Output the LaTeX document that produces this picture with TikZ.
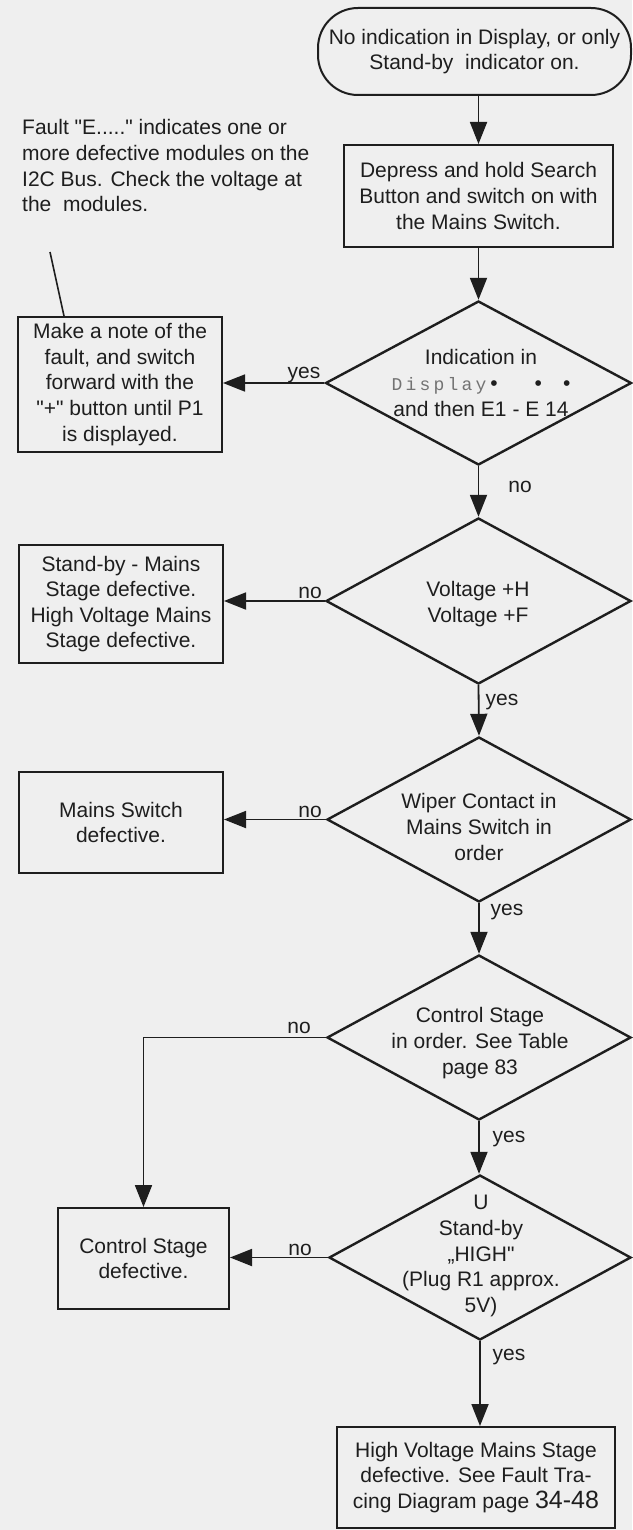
\documentclass[tikz,border=0pt]{standalone}
\usepackage{fontspec}
\setmainfont{Liberation Sans}[Ligatures=TeXOff]
\newfontfamily\lcd{Liberation Mono}
\usetikzlibrary{shapes.geometric,arrows.meta}
\definecolor{bg}{RGB}{239,239,239}
\definecolor{ink}{RGB}{30,30,30}
\definecolor{lcdgray}{RGB}{115,115,115}
\newcommand{\lsp}{\kern3.2pt}
\begin{document}
\begin{tikzpicture}[x=1pt,y=-1pt,
  every node/.style={font=\fontsize{21}{25.6}\selectfont, text=ink},
  box/.style={draw=ink, line width=2pt, rectangle, inner sep=0pt, align=center},
  dia/.style={draw=ink, line width=2.4pt, diamond, inner sep=0pt},
  txt/.style={align=center, inner sep=0pt},
  lbl/.style={inner sep=0pt},
  arr/.style={draw=ink, line width=1.8pt, -{Triangle[length=22pt,width=17pt]}},
]
\fill[bg] (0,0) rectangle (632,1530);
\useasboundingbox (0,0) rectangle (632,1530);

% start terminal
\node[box, rounded corners=40pt, minimum width=313pt, minimum height=87pt] (start) at (474.5,51.5)
  {No indication in Display, or only\\Stand-by\ \ indicator on.};

% first step
\node[box, minimum width=269pt, minimum height=102pt] (b1) at (478.5,196)
  {Depress and hold Search\\Button and switch on with\\the Mains Switch.};

% annotation
\node[txt, align=left, anchor=north west] (ann) at (22,119.5)
  {Fault "E....." indicates one or\\more defective modules on the\\I2C Bus. Check the voltage at\\the\ \ modules.};
\coordinate (lead) at (50,252);

% decision 1
\node[dia, minimum width=306pt, minimum height=164pt] (d1) at (478.5,383) {};
\node[txt] (t1) at (481,383)
  {Indication in\\{\lcd\fontsize{18}{25.6}\selectfont\color{lcdgray}D\lsp i\lsp s\lsp p\lsp l\lsp a\lsp y}\kern4pt•\kern37pt•\kern21pt•\\and then E1 - E 14};
\node[box, minimum width=204pt, minimum height=135pt] (note) at (120,384.5)
  {Make a note of the\\fault, and switch\\forward with the\\"+" button until P1\\is displayed.};

% decision 2
\node[dia, minimum width=305pt, minimum height=166pt] (d2) at (478.5,601) {};
\node[txt] (t2) at (478,604) {Voltage +H\\Voltage +F};
\node[box, minimum width=204pt, minimum height=118pt] (b2) at (121,604)
  {Stand-by - Mains\\Stage defective.\\High Voltage Mains\\Stage defective.};

% decision 3
\node[dia, minimum width=304pt, minimum height=165pt] (d3) at (479,819.5) {};
\node[txt] (t3) at (479,827) {Wiper Contact in\\Mains Switch in\\order};
\node[box, minimum width=204pt, minimum height=101pt] (b3) at (121,822.5)
  {Mains Switch\\defective.};

% decision 4
\node[dia, minimum width=304pt, minimum height=165pt] (d4) at (479,1037.5) {};
\node[txt] (t4) at (480,1043) {Control Stage\\in order. See Table\\page\ 83};

% decision 5
\node[dia, minimum width=302pt, minimum height=165pt] (d5) at (480,1257.5) {};
\node[txt] (t5) at (481,1256) {U\\Stand-by\\„HIGH"\\(Plug R1 approx.\\5V)};
\node[box, minimum width=171pt, minimum height=101pt] (b4) at (143.5,1258.5)
  {Control Stage\\defective.};

% final box
\node[box, minimum width=278pt, minimum height=101pt] (b5) at (476,1477.5)
  {High Voltage Mains Stage\\defective. See Fault Tra-\\cing Diagram page {\fontsize{25}{25.6}\selectfont 34-48}};

% connectors
\draw[arr] (b1.north |- start.south) -- (b1.north);
\draw[arr] (b1.south) -- (d1.north);
\draw[draw=ink, line width=1.6pt] (lead) -- ([xshift=-56pt]note.north);
\draw[arr] (d1.west) -- (d1.west -| note.east);
\draw[arr] (d1.south) -- (d2.north);
\draw[arr] (d2.west) -- (d2.west -| b2.east);
\draw[arr] (d2.south) -- (d3.north);
\draw[arr] (d3.west) -- (d3.west -| b3.east);
\draw[arr] (d3.south) -- (d4.north);
\draw[arr] (d4.west) -| (b4.north);
\draw[arr] (d4.south) -- (d4.south |- d5.north);
\draw[arr] (d5.west) -- (d5.west -| b4.east);
\draw[arr] (d5.south) -- (d5.south |- b5.north);

% labels
\node[lbl] (l1y) at (304,375) {yes};
\node[lbl] (l1n) at (520,487) {no};
\node[lbl] (l2n) at (310,593) {no};
\node[lbl] (l2y) at (502,702) {yes};
\node[lbl] (l3n) at (310,812) {no};
\node[lbl] (l3y) at (507,912) {yes};
\node[lbl] (l4n) at (299,1028) {no};
\node[lbl] (l4y) at (509,1139) {yes};
\node[lbl] (l5n) at (300,1250) {no};
\node[lbl] (l5y) at (509,1357) {yes};
\end{tikzpicture}
\end{document}
